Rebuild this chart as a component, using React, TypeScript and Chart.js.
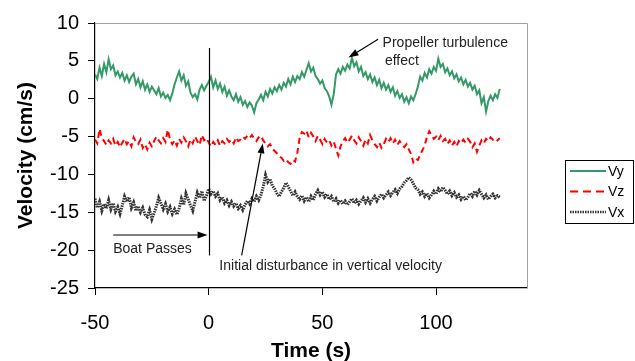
import React, { useEffect, useRef } from "react";
import { Chart, registerables } from "chart.js";

Chart.register(...registerables);

const START_TIME = -50;
const TIME_STEP = 1;

const vy = [
  3.2, 2.6, 4.1, 3.0, 4.6, 3.5, 5.2, 3.9, 4.4, 3.1,
  3.6, 2.8, 3.4, 2.4, 3.1, 2.2, 2.9, 3.3, 1.9, 2.6,
  1.5, 2.3, 1.2, 1.9, 0.9, 1.6, 1.1, 0.6, 1.4, 0.3,
  0.8, 0.1, 0.5, -0.2, 0.7, 1.9, 2.8, 3.6, 2.4, 3.1,
  1.7, 2.3, 0.8, 0.2, 0.6, -0.1, 1.2, 1.8, 1.1, 1.7,
  2.2, 2.9, 1.5, 2.4, 1.3, 2.0, 0.9, 1.6, 0.4, 1.1,
  0.3, -0.2, 0.6, -0.4, 0.2, -0.8, -0.3, -1.1, -0.5, -0.9,
  -1.8, -0.6, -0.1, 0.5, -0.2, 0.9, 0.3, 1.3, 0.7, 1.5,
  1.0, 1.8, 1.2, 2.1, 1.6, 2.6, 1.9, 2.9, 2.2, 3.0,
  2.6, 3.5, 2.9, 3.8, 4.7, 3.6, 4.1, 3.0, 2.6, 2.0,
  2.4, 1.4, 1.0, 0.3, -0.8, 0.6, 3.2, 3.9, 3.3, 4.2,
  3.7, 4.5, 4.0, 5.4, 4.3, 4.8, 3.6, 4.2, 3.0, 3.5,
  2.6, 3.2, 2.2, 2.8, 1.8, 2.5, 1.4, 2.1, 1.2, 1.8,
  0.9, 1.5, 0.4, 1.0, 0.1, 0.6, -0.4, 0.2, -0.6, 0.3,
  -0.2, 0.6, 1.6, 2.9, 2.4, 3.4, 2.8, 3.9, 3.3, 4.2,
  3.7, 5.3, 4.2, 4.6, 3.5, 4.0, 3.1, 3.6, 2.7, 3.2,
  2.3, 2.8, 1.9, 2.5, 1.6, 2.1, 1.2, 1.7, 0.6, 1.1,
  -0.6, 0.2, -1.7, -0.3, 0.4, -0.2, 0.6, 0.1, 1.3,
];

const vz = [
  -5.4, -5.9, -4.0, -5.2, -5.6, -6.1, -5.5, -5.9, -5.3, -6.2,
  -5.7, -6.4, -5.8, -5.3, -6.0, -5.6, -6.3, -5.1, -5.7, -6.0,
  -5.4, -6.5, -6.0, -6.7, -5.8, -6.3, -5.6, -5.0, -5.5, -5.9,
  -5.2, -5.7, -4.1, -5.4, -6.0, -5.5, -6.2, -5.3, -5.8, -5.1,
  -5.6, -6.3, -5.4, -5.9, -5.0, -5.6, -6.1, -4.8, -5.5, -5.2,
  -5.8, -6.3, -5.7, -6.1, -5.5, -6.2, -5.6, -5.9, -5.3, -5.7,
  -5.4, -5.9, -5.1, -5.6, -5.4, -5.0, -5.3, -4.9, -5.2, -4.8,
  -5.3, -5.6, -5.1, -4.9, -5.5, -5.9, -6.3, -6.0, -6.6, -6.9,
  -7.2, -7.6, -7.8, -8.2, -8.0, -8.4, -8.6, -8.1, -8.3, -7.1,
  -5.2, -4.4, -4.6, -4.2, -5.1, -4.5, -5.0, -5.6, -4.9, -5.4,
  -6.0, -5.3, -5.8, -5.5, -6.2, -5.7, -6.6, -7.5, -6.3, -5.6,
  -5.2, -5.8, -5.4, -4.9, -5.5, -5.9, -5.1, -5.6, -6.2, -5.4,
  -5.9, -4.8, -5.5, -6.0, -6.4, -5.8, -6.5, -6.0, -5.3, -5.7,
  -5.2, -5.9, -5.4, -6.1, -5.6, -6.0, -6.4, -6.0, -6.7, -7.3,
  -8.4, -7.9, -8.1, -7.4, -6.8, -6.2, -5.0, -4.3, -4.8, -5.3,
  -5.0, -5.5, -4.9, -5.6, -5.3, -6.0, -5.5, -6.2, -5.7, -6.3,
  -5.6, -5.9, -5.4, -5.8, -5.3, -5.7, -6.4, -5.9, -7.0, -6.2,
  -5.5, -5.9, -5.3, -5.6, -5.1, -5.4, -5.2, -5.5, -5.2,
];

const vx = [
  -13.2, -14.4, -13.6, -14.8, -13.9, -14.5, -13.4, -14.6, -13.8, -14.9,
  -14.3, -15.2, -14.1, -12.9, -13.6, -13.0, -14.4, -13.7, -14.8, -14.2,
  -15.0, -14.4, -15.3, -15.6, -14.7, -15.9, -15.1, -14.2, -13.1, -13.8,
  -14.6, -13.9, -14.9, -14.3, -15.2, -14.6, -15.3, -14.5, -13.2, -14.0,
  -12.5, -13.3, -14.1, -14.8, -13.6, -12.4, -13.1, -12.2, -13.5, -12.8,
  -11.9, -12.6, -12.2, -12.9, -12.5, -13.4, -13.0, -13.8, -13.4, -14.1,
  -13.6, -14.2, -13.8, -14.5, -14.1, -14.7, -14.0, -13.5, -13.9, -13.2,
  -13.6, -12.9, -13.4, -12.7, -11.6, -10.1, -11.0, -10.6, -11.5, -11.9,
  -12.5, -12.9, -12.3, -11.8, -11.1, -11.6, -12.2, -12.8, -12.3, -12.9,
  -13.3, -12.8, -13.5, -13.0, -13.6, -12.9, -13.4, -12.6, -12.1, -12.7,
  -12.3, -13.0, -12.6, -13.3, -12.9, -13.6, -13.2, -13.8, -13.4, -13.9,
  -13.5, -14.0, -13.6, -13.2, -13.8, -13.4, -13.9, -13.5, -13.1, -13.7,
  -13.2, -13.8, -13.3, -12.9, -13.5, -13.0, -12.6, -13.1, -12.7, -12.3,
  -12.8, -12.4, -12.0, -12.5, -11.9, -11.6, -11.1, -10.8, -10.4, -10.7,
  -11.2, -11.8, -12.0, -12.6, -12.3, -12.9, -12.5, -13.1, -12.7, -12.2,
  -12.6, -11.9, -12.3, -11.7, -12.1, -12.6, -12.2, -12.8, -12.4, -13.0,
  -12.7, -13.3, -12.9, -13.4, -13.0, -12.5, -12.9, -12.2, -12.7, -12.1,
  -12.6, -13.1, -12.7, -13.3, -12.9, -12.6, -13.1, -12.8, -13.0,
];

const xTickValues = [-50, 0, 50, 100];
const seriesLabels = ["Vy", "Vz", "Vx"];

const FONT = "Arial, 'Liberation Sans', sans-serif";
const GREEN = "#339966";
const RED = "#ff0000";
const DARK = "#333333";

function toPoints(values: number[]) {
  return values.map((v, i) => ({ x: START_TIME + i * TIME_STEP, y: v }));
}

function arrow(ctx: CanvasRenderingContext2D, x1: number, y1: number, x2: number, y2: number) {
  const ang = Math.atan2(y2 - y1, x2 - x1);
  const len = 10;
  const half = 3.5;
  const bx = x2 - len * Math.cos(ang);
  const by = y2 - len * Math.sin(ang);
  ctx.beginPath();
  ctx.moveTo(x1, y1);
  ctx.lineTo(bx, by);
  ctx.stroke();
  ctx.beginPath();
  ctx.moveTo(x2, y2);
  ctx.lineTo(bx + half * Math.sin(ang), by - half * Math.cos(ang));
  ctx.lineTo(bx - half * Math.sin(ang), by + half * Math.cos(ang));
  ctx.closePath();
  ctx.fill();
}

const decorPlugin = {
  id: "decor",
  afterDraw(chart: any) {
    const { ctx, chartArea, scales } = chart;
    const xs = scales.x;
    const ys = scales.y;
    const px = (v: number) => xs.getPixelForValue(v);
    const py = (v: number) => ys.getPixelForValue(v);
    ctx.save();
    ctx.strokeStyle = "#a0a0a0";
    ctx.lineWidth = 1;
    ctx.beginPath();
    ctx.moveTo(chartArea.left, chartArea.top + 0.5);
    ctx.lineTo(chartArea.right + 0.5, chartArea.top + 0.5);
    ctx.lineTo(chartArea.right + 0.5, chartArea.bottom);
    ctx.stroke();

    ctx.strokeStyle = "#000";
    ctx.fillStyle = "#000";
    ctx.lineWidth = 1.2;
    ctx.beginPath();
    ctx.moveTo(Math.round(px(0)) + 0.5, py(6.7));
    ctx.lineTo(Math.round(px(0)) + 0.5, py(-20.7));
    ctx.stroke();

    arrow(ctx, px(-42), py(-18), px(-0.5), py(-18));
    arrow(ctx, px(14.5), py(-20.7), px(23.8), py(-5.9));
    arrow(ctx, px(74.5), py(7.85), px(61.5), py(5.45));

    ctx.fillStyle = "#222";
    ctx.font = `14px ${FONT}`;
    ctx.textBaseline = "middle";
    ctx.textAlign = "left";
    ctx.fillText("Boat Passes", px(-42), py(-19.9));
    ctx.fillText("Initial disturbance in vertical velocity", px(4.7), py(-22.1));
    ctx.fillText("Propeller turbulence", px(76.5), py(7.4));
    ctx.fillText("effect", px(77.5), py(5.0));

    const lx = 565, ly = 160, lw = 68, lh = 63;
    ctx.fillStyle = "#fff";
    ctx.fillRect(lx, ly, lw, lh);
    ctx.strokeStyle = "#000";
    ctx.lineWidth = 1;
    ctx.strokeRect(lx + 0.5, ly + 0.5, lw, lh);
    const styles = [
      { c: GREEN, d: [] as number[], w: 2 },
      { c: RED, d: [8, 5], w: 2 },
      { c: DARK, d: [1.5, 1], w: 2.5 },
    ];
    seriesLabels.forEach((lab, i) => {
      const y = ly + 11 + i * 20.5;
      ctx.strokeStyle = styles[i].c;
      ctx.lineWidth = styles[i].w;
      ctx.setLineDash(styles[i].d);
      ctx.beginPath();
      ctx.moveTo(lx + 5, y);
      ctx.lineTo(lx + 41, y);
      ctx.stroke();
      ctx.setLineDash([]);
      ctx.fillStyle = "#000";
      ctx.font = `14px ${FONT}`;
      ctx.textAlign = "left";
      ctx.textBaseline = "middle";
      ctx.fillText(lab, lx + 43, y + 1);
    });
    ctx.restore();
  },
};

export default function App() {
  const canvasRef = useRef<HTMLCanvasElement | null>(null);

  useEffect(() => {
    if (!canvasRef.current) return;
    const chart = new Chart(canvasRef.current, {
      type: "line",
      data: {
        datasets: [
          {
            label: seriesLabels[0],
            data: toPoints(vy),
            borderColor: GREEN,
            borderWidth: 2,
            pointRadius: 0,
            tension: 0,
          },
          {
            label: seriesLabels[1],
            data: toPoints(vz),
            borderColor: RED,
            borderWidth: 2,
            borderDash: [6, 4],
            pointRadius: 0,
            tension: 0,
          },
          {
            label: seriesLabels[2],
            data: toPoints(vx),
            borderColor: DARK,
            borderWidth: 3,
            borderDash: [1.5, 1],
            pointRadius: 0,
            tension: 0,
          },
        ],
      },
      options: {
        animation: false,
        responsive: false,
        maintainAspectRatio: false,
        layout: { padding: { left: 0, right: 108, top: 23, bottom: 0 } },
        plugins: { legend: { display: false }, tooltip: { enabled: false } },
        scales: {
          x: {
            type: "linear",
            min: -50,
            max: 140,
            afterBuildTicks: (scale: any) => {
              scale.ticks = xTickValues.map((v) => ({ value: v }));
            },
            afterFit: (scale: any) => {
              scale.height = 73;
            },
            grid: {
              drawOnChartArea: false,
              drawTicks: true,
              tickLength: 7,
              tickColor: "#000",
            },
            border: { color: "#000", width: 1.2 },
            ticks: {
              color: "#000",
              font: { family: FONT, size: 20 },
              padding: 16,
              maxRotation: 0,
            },
            title: {
              display: true,
              text: "Time (s)",
              color: "#000",
              font: { family: FONT, size: 21, weight: "bold", lineHeight: 0.9 },
              padding: 0,
            },
          },
          y: {
            min: -25,
            max: 10,
            afterFit: (scale: any) => {
              scale.width = 95;
            },
            grid: {
              drawOnChartArea: false,
              drawTicks: true,
              tickLength: 7,
              tickColor: "#000",
            },
            border: { color: "#000", width: 1.2 },
            ticks: {
              stepSize: 5,
              color: "#000",
              font: { family: FONT, size: 20 },
              padding: 9,
            },
            title: {
              display: true,
              text: "Velocity (cm/s)",
              color: "#000",
              font: { family: FONT, size: 21, weight: "bold", lineHeight: 1 },
              padding: { top: 16, bottom: 0 },
            },
          },
        },
      },
      plugins: [decorPlugin],
    });
    return () => chart.destroy();
  }, []);

  return (
    <div style={{ position: "fixed", left: 0, top: 0, width: 635, height: 361, background: "#fff" }}>
      <canvas ref={canvasRef} width={635} height={361} style={{ display: "block" }} />
    </div>
  );
}
